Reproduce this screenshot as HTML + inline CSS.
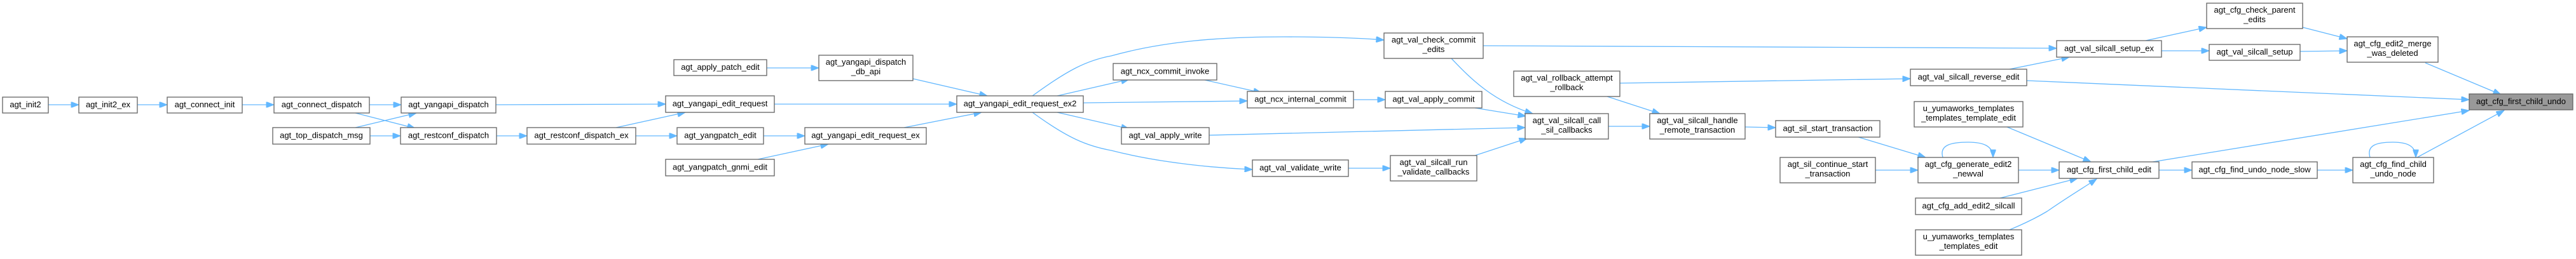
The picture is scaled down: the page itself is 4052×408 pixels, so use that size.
<!DOCTYPE html>
<html>
<head>
<meta charset="utf-8">
<style>
html,body{margin:0;padding:0;background:#fff;}
svg{display:block;}
text{font-family:"Liberation Sans",Arial,sans-serif;font-size:13px;fill:#000;}
.n{fill:#fff;stroke:#666;stroke-width:1.33;}
.r{fill:#999;stroke:#666;stroke-width:1.33;}
.e{fill:none;stroke:#63b8ff;stroke-width:1.33;}
</style>
</head>
<body>
<svg width="4052" height="408" viewBox="0 0 4052 408" xmlns="http://www.w3.org/2000/svg">
<defs>
<marker id="a" viewBox="0 0 13 10" refX="13" refY="5" markerWidth="13" markerHeight="9.4" markerUnits="userSpaceOnUse" orient="auto">
<path d="M0,0 L13,5 L0,10 z" fill="#63b8ff" stroke="#63b8ff" stroke-width="1"/>
</marker>
</defs>
<rect width="4052" height="408" fill="#fff"/>

<!-- edges -->
<g class="e" marker-end="url(#a)">
<path class="e" marker-end="url(#a)" d="M76,165 L124,165"/>
<path class="e" marker-end="url(#a)" d="M216,165 L263,165"/>
<path class="e" marker-end="url(#a)" d="M381,165 L431,165"/>
<path class="e" marker-end="url(#a)" d="M581,165 L631,165"/>
<path class="e" marker-end="url(#a)" d="M559,178 L653,202"/>
<path class="e" marker-end="url(#a)" d="M559,201 L655,178"/>
<path class="e" marker-end="url(#a)" d="M582,214 L630,214"/>
<path class="e" marker-end="url(#a)" d="M780,165 L1047,164"/>
<path class="e" marker-end="url(#a)" d="M781,214 L829,214"/>
<path class="e" marker-end="url(#a)" d="M969,201 L1078,177"/>
<path class="e" marker-end="url(#a)" d="M1000,214 L1065,214"/>
<path class="e" marker-end="url(#a)" d="M1201,214 L1266,214"/>
<path class="e" marker-end="url(#a)" d="M1192,251 L1303,227"/>
<path class="e" marker-end="url(#a)" d="M1206,107 L1288,107"/>
<path class="e" marker-end="url(#a)" d="M1436,124 L1553,151"/>
<path class="e" marker-end="url(#a)" d="M1218,164 L1505,164"/>
<path class="e" marker-end="url(#a)" d="M1422,201 L1544,177"/>
<path class="e" marker-end="url(#a)" d="M1624,151 C1680,110 1710,95 1748,88 C1830,65 1920,58 2020,58 C2090,58 2140,60 2177,63"/>
<path class="e" marker-end="url(#a)" d="M1663,151 L1776,125"/>
<path class="e" marker-end="url(#a)" d="M1704,162 L1962,159"/>
<path class="e" marker-end="url(#a)" d="M1663,177 L1776,203"/>
<path class="e" marker-end="url(#a)" d="M1624,177 C1680,218 1710,230 1748,237 C1830,258 1920,265 1970,267"/>
<path class="e" marker-end="url(#a)" d="M1895,126 L1984,146"/>
<path class="e" marker-end="url(#a)" d="M2129,157 L2179,157"/>
<path class="e" marker-end="url(#a)" d="M1902,213 L2399,201"/>
<path class="e" marker-end="url(#a)" d="M2121,265 L2187,265"/>
<path class="e" marker-end="url(#a)" d="M2283,92 C2315,126 2350,160 2411,179"/>
<path class="e" marker-end="url(#a)" d="M2333,72 L3235,76"/>
<path class="e" marker-end="url(#a)" d="M2320,170 L2400,183"/>
<path class="e" marker-end="url(#a)" d="M2320,245 L2402,218"/>
<path class="e" marker-end="url(#a)" d="M2548,131 L3005,124"/>
<path class="e" marker-end="url(#a)" d="M2528,152 L2611,179"/>
<path class="e" marker-end="url(#a)" d="M2530,199 L2595,199"/>
<path class="e" marker-end="url(#a)" d="M2745,200 L2793,201"/>
<path class="e" marker-end="url(#a)" d="M2920,215 L3029,248"/>
<path class="e" marker-end="url(#a)" d="M2950,268 L3017,268"/>
<path class="e" marker-end="url(#a)" d="M3056,248 C3050,228 3070,224 3096,224 C3120,224 3135,230 3135,248"/>
<path class="e" marker-end="url(#a)" d="M3175,268 L3239,268"/>
<path class="e" marker-end="url(#a)" d="M3157,200 L3289,255"/>
<path class="e" marker-end="url(#a)" d="M3146,312 L3268,281"/>
<path class="e" marker-end="url(#a)" d="M3161,362 C3185,352 3205,342 3220,333 C3250,312 3275,297 3298,282"/>
<path class="e" marker-end="url(#a)" d="M3161,109 L3255,90"/>
<path class="e" marker-end="url(#a)" d="M3188,127 L3884,157"/>
<path class="e" marker-end="url(#a)" d="M3375,64 L3471,43"/>
<path class="e" marker-end="url(#a)" d="M3400,80 L3475,80"/>
<path class="e" marker-end="url(#a)" d="M3622,43 L3692,61"/>
<path class="e" marker-end="url(#a)" d="M3618,81 L3692,80"/>
<path class="e" marker-end="url(#a)" d="M3815,99 L3934,149"/>
<path class="e" marker-end="url(#a)" d="M3386,255 L3884,174"/>
<path class="e" marker-end="url(#a)" d="M3396,268 L3448,268"/>
<path class="e" marker-end="url(#a)" d="M3645,268 L3701,268"/>
<path class="e" marker-end="url(#a)" d="M3728,248 C3722,228 3740,224 3764,224 C3790,224 3800,232 3800,248"/>
<path class="e" marker-end="url(#a)" d="M3802,248 L3939,174"/>
</g>

<!-- nodes -->
<g text-anchor="middle">
<rect class="n" x="4" y="153" width="72" height="25"/>
<rect class="n" x="124" y="153" width="92" height="25"/>
<rect class="n" x="263" y="153" width="118" height="25"/>
<rect class="n" x="431" y="153" width="150" height="25"/>
<rect class="n" x="429" y="201" width="153" height="26"/>
<rect class="n" x="631" y="153" width="149" height="25"/>
<rect class="n" x="630" y="201" width="151" height="26"/>
<rect class="n" x="1060" y="94" width="146" height="25"/>
<rect class="n" x="1288" y="87" width="148" height="40"/>
<rect class="n" x="1047" y="151" width="171" height="26"/>
<rect class="n" x="829" y="201" width="171" height="26"/>
<rect class="n" x="1065" y="201" width="136" height="26"/>
<rect class="n" x="1266" y="201" width="191" height="26"/>
<rect class="n" x="1047" y="251" width="171" height="26"/>
<rect class="n" x="1505" y="151" width="199" height="26"/>
<rect class="n" x="1751" y="100" width="163" height="26"/>
<rect class="n" x="1962" y="144" width="167" height="26"/>
<rect class="n" x="1764" y="201" width="138" height="26"/>
<rect class="n" x="1970" y="252" width="151" height="26"/>
<rect class="n" x="2177" y="52" width="156" height="40"/>
<rect class="n" x="2179" y="144" width="152" height="26"/>
<rect class="n" x="2187" y="245" width="136" height="40"/>
<rect class="n" x="2381" y="112" width="167" height="40"/>
<rect class="n" x="2399" y="179" width="131" height="40"/>
<rect class="n" x="2595" y="179" width="150" height="40"/>
<rect class="n" x="3235" y="64" width="165" height="26"/>
<rect class="n" x="3005" y="109" width="183" height="26"/>
<rect class="n" x="3011" y="160" width="171" height="40"/>
<rect class="n" x="2793" y="190" width="164" height="26"/>
<rect class="n" x="2800" y="248" width="150" height="40"/>
<rect class="n" x="3017" y="248" width="158" height="40"/>
<rect class="n" x="3013" y="312" width="167" height="26"/>
<rect class="n" x="3013" y="362" width="167" height="40"/>
<rect class="n" x="3239" y="255" width="157" height="26"/>
<rect class="n" x="3471" y="5" width="151" height="40"/>
<rect class="n" x="3475" y="70" width="143" height="25"/>
<rect class="n" x="3692" y="58" width="143" height="40"/>
<rect class="r" x="3884" y="148" width="163" height="25"/>
<rect class="n" x="3448" y="255" width="197" height="26"/>
<rect class="n" x="3701" y="248" width="127" height="40"/>
<g transform="translate(0,-1)">
<text x="40" y="170">agt_init2</text>
<text x="170" y="170">agt_init2_ex</text>
<text x="322" y="170">agt_connect_init</text>
<text x="506" y="170">agt_connect_dispatch</text>
<text x="505.5" y="218.5">agt_top_dispatch_msg</text>
<text x="705.5" y="170">agt_yangapi_dispatch</text>
<text x="705.5" y="218.5">agt_restconf_dispatch</text>
<text x="1133" y="111">agt_apply_patch_edit</text>
<text x="1362" y="103">agt_yangapi_dispatch</text><text x="1362" y="118">_db_api</text>
<text x="1132.5" y="168.5">agt_yangapi_edit_request</text>
<text x="914.5" y="218.5">agt_restconf_dispatch_ex</text>
<text x="1133" y="218.5">agt_yangpatch_edit</text>
<text x="1361.5" y="218.5">agt_yangapi_edit_request_ex</text>
<text x="1132.5" y="268.5">agt_yangpatch_gnmi_edit</text>
<text x="1604.5" y="168.5">agt_yangapi_edit_request_ex2</text>
<text x="1832.5" y="117.5">agt_ncx_commit_invoke</text>
<text x="2045.5" y="161.5">agt_ncx_internal_commit</text>
<text x="1833" y="218.5">agt_val_apply_write</text>
<text x="2045.5" y="269.5">agt_val_validate_write</text>
<text x="2255" y="68">agt_val_check_commit</text><text x="2255" y="83">_edits</text>
<text x="2255" y="161.5">agt_val_apply_commit</text>
<text x="2255" y="261">agt_val_silcall_run</text><text x="2255" y="276">_validate_callbacks</text>
<text x="2464.5" y="128">agt_val_rollback_attempt</text><text x="2464.5" y="143">_rollback</text>
<text x="2464.5" y="195">agt_val_silcall_call</text><text x="2464.5" y="210">_sil_callbacks</text>
<text x="2670" y="195">agt_val_silcall_handle</text><text x="2670" y="210">_remote_transaction</text>
<text x="3317.5" y="81.5">agt_val_silcall_setup_ex</text>
<text x="3096.5" y="126.5">agt_val_silcall_reverse_edit</text>
<text x="3096.5" y="176">u_yumaworks_templates</text><text x="3096.5" y="191">_templates_template_edit</text>
<text x="2875" y="207.5">agt_sil_start_transaction</text>
<text x="2875" y="264">agt_sil_continue_start</text><text x="2875" y="279">_transaction</text>
<text x="3096" y="264">agt_cfg_generate_edit2</text><text x="3096" y="279">_newval</text>
<text x="3096.5" y="329.5">agt_cfg_add_edit2_silcall</text>
<text x="3096.5" y="378">u_yumaworks_templates</text><text x="3096.5" y="393">_templates_edit</text>
<text x="3317.5" y="272.5">agt_cfg_first_child_edit</text>
<text x="3546.5" y="21">agt_cfg_check_parent</text><text x="3546.5" y="36">_edits</text>
<text x="3546.5" y="87">agt_val_silcall_setup</text>
<text x="3763.5" y="74">agt_cfg_edit2_merge</text><text x="3763.5" y="89">_was_deleted</text>
<text x="3965.5" y="165">agt_cfg_first_child_undo</text>
<text x="3546.5" y="272.5">agt_cfg_find_undo_node_slow</text>
<text x="3764.5" y="264">agt_cfg_find_child</text><text x="3764.5" y="279">_undo_node</text>
</g>
</g>
</svg>
</body>
</html>
